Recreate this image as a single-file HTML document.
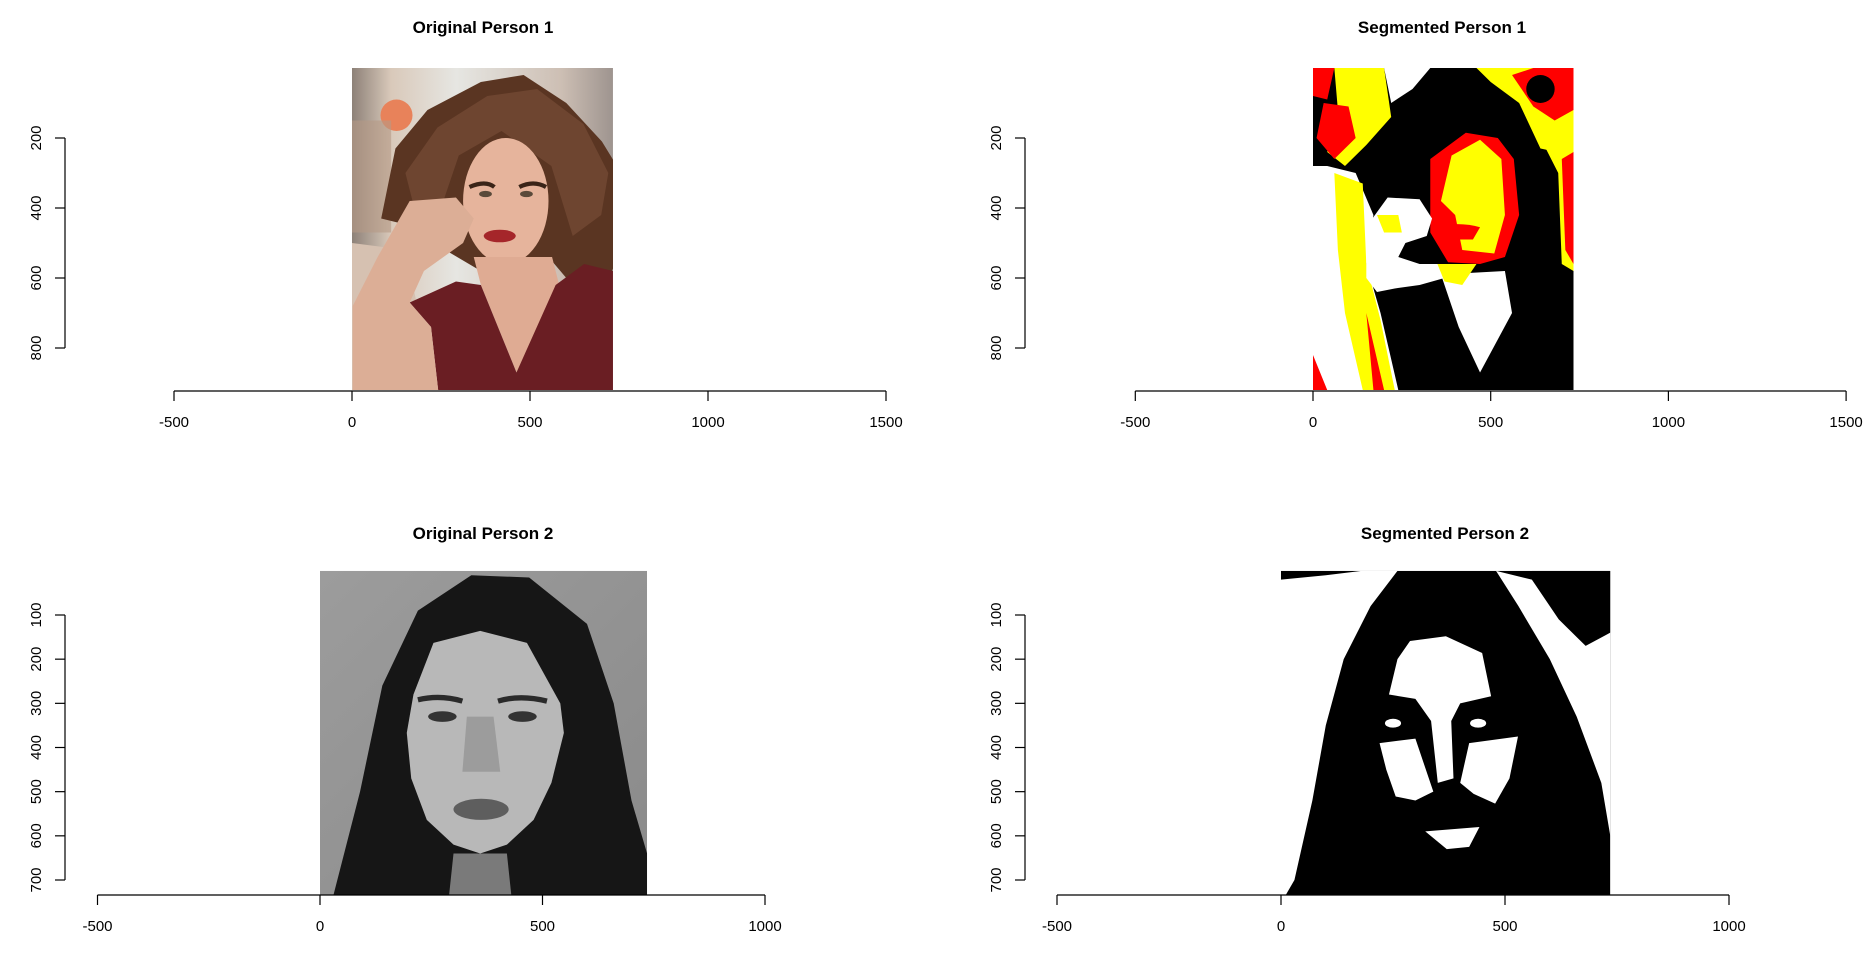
<!DOCTYPE html>
<html><head><meta charset="utf-8">
<style>
html,body{margin:0;padding:0;background:#fff;}
svg{display:block;}
text{font-family:"Liberation Sans",Arial,sans-serif;fill:#000;}
</style></head>
<body>
<svg id="root" width="1873" height="966" viewBox="0 0 1873 966" xmlns="http://www.w3.org/2000/svg">
<defs>
<linearGradient id="bg1" x1="0" y1="0" x2="1" y2="0"><stop offset="0" stop-color="#8d8178"/><stop offset="0.15" stop-color="#d9c9ba"/><stop offset="0.4" stop-color="#e6e6e2"/><stop offset="0.8" stop-color="#cdbfb4"/><stop offset="1" stop-color="#9e948f"/></linearGradient>
<linearGradient id="bg2" x1="0" y1="0" x2="1" y2="1"><stop offset="0" stop-color="#9c9c9c"/><stop offset="1" stop-color="#8a8a8a"/></linearGradient>
</defs>
</svg>
<script>
// ---- data ----
const panelTitles = ["Original Person 1","Segmented Person 1","Original Person 2","Segmented Person 2"];
const xTicksTop = [-500,0,500,1000,1500];
const yTicksTop = [200,400,600,800];
const xTicksBottom = [-500,0,500,1000];
const yTicksBottom = [100,200,300,400,500,600,700];
const imgWidthTop = 733, imgHeightTop = 920;
const imgWidthBottom = 735, imgHeightBottom = 735;

const NS="http://www.w3.org/2000/svg";
const root=document.getElementById('root');
function mk(tag,attrs,parent){const e=document.createElementNS(NS,tag);for(const k in attrs)e.setAttribute(k,attrs[k]);(parent||root).appendChild(e);return e;}

// layout per panel: pixel positions of axis
const layouts=[
 {x0:352,xs:178/500,axisY:391,yAxisX:65,yPix0:67,ys:(348-138)/600,yRef:200,yRefPix:138,titleX:483,titleY:33,xt:xTicksTop,yt:yTicksTop,w:imgWidthTop,h:imgHeightTop},
 {x0:1313,xs:177.7/500,axisY:391,yAxisX:1025,ys:(348-138)/600,yRef:200,yRefPix:138,titleX:1442,titleY:33,xt:xTicksTop,yt:yTicksTop,w:imgWidthTop,h:imgHeightTop},
 {x0:320,xs:222.5/500,axisY:895,yAxisX:65,ys:(880-615)/600,yRef:100,yRefPix:615,titleX:483,titleY:539,xt:xTicksBottom,yt:yTicksBottom,w:imgWidthBottom,h:imgHeightBottom},
 {x0:1281,xs:224/500,axisY:895,yAxisX:1025,ys:(880-615)/600,yRef:100,yRefPix:615,titleX:1445,titleY:539,xt:xTicksBottom,yt:yTicksBottom,w:imgWidthBottom,h:imgHeightBottom}
];

const art=[
// person 1 original
`<rect width="733" height="920" fill="url(#bg1)"/>
<circle cx="125" cy="135" r="45" fill="#e8825a"/>
<rect x="0" y="150" width="110" height="320" fill="#b59a86" opacity="0.6"/>
<path d="M0 500 L150 520 L200 760 L180 920 L0 920Z" fill="#d6c1b1"/>
<path d="M82 430 L122 230 L212 120 L362 40 L482 20 L602 100 L702 210 L762 310 L772 480 L722 600 L602 600 L552 540 L482 580 L362 580 L262 520 L162 450Z" fill="#5a3522"/>
<path d="M150 300 L240 170 L380 80 L520 60 L650 160 L720 300 L700 420 L620 480 L560 280 L420 180 L300 250 L250 400 L180 420Z" fill="#6e4530"/>
<ellipse cx="432" cy="380" rx="120" ry="180" fill="#e6b49c"/>
<path d="M330 340 Q375 320 400 340 M470 340 Q510 320 545 340" stroke="#3a2418" stroke-width="12" fill="none"/>
<ellipse cx="375" cy="360" rx="18" ry="9" fill="#5a4a3a"/><ellipse cx="490" cy="360" rx="18" ry="9" fill="#5a4a3a"/>
<ellipse cx="415" cy="480" rx="45" ry="18" fill="#a5262a"/>
<path d="M342 540 L562 540 L582 620 L462 870 L362 620Z" fill="#dfab93"/>
<path d="M162 670 L292 610 L362 620 L462 870 L572 620 L652 560 L733 580 L733 920 L242 920 L222 740Z" fill="#6a1e23"/>
<path d="M2 920 L2 680 L72 540 L162 380 L292 370 L342 430 L312 500 L202 580 L162 670 L222 740 L242 920Z" fill="#dcae96"/>`,
// person 1 segmented
`<rect width="733" height="920" fill="#000"/>
<path d="M0 280 L0 920 L240 920 L190 700 L150 560 L170 420 L120 300 L40 280Z" fill="#fff"/>
<path d="M60 300 L140 330 L150 560 L190 720 L230 920 L140 920 L90 700 L70 520Z" fill="#ff0"/>
<path d="M0 820 L40 920 L0 920Z M150 700 L200 920 L170 920Z" fill="#f00"/>
<path d="M60 0 L200 0 L220 140 L150 220 L90 280 L40 240 L70 120Z" fill="#ff0"/>
<path d="M30 100 L100 110 L120 200 L60 260 L10 200Z M0 0 L60 0 L40 90 L0 80Z" fill="#f00"/>
<path d="M200 0 L330 0 L280 60 L220 100Z" fill="#fff"/>
<path d="M460 0 L733 0 L733 250 L640 230 L580 100 L500 40Z" fill="#ff0"/>
<path d="M560 20 L620 0 L733 0 L733 120 L680 150 L620 110Z" fill="#f00"/>
<ellipse cx="640" cy="60" rx="40" ry="40" fill="#000"/>
<path d="M640 200 L733 180 L733 580 L700 560 L690 300Z" fill="#ff0"/>
<path d="M700 260 L733 240 L733 560 L710 520Z" fill="#f00"/>
<path d="M330 260 L430 185 L520 200 L565 260 L580 420 L540 540 L470 560 L380 555 L330 470Z" fill="#f00"/>
<path d="M390 250 L470 205 L530 260 L540 420 L510 530 L420 520 L400 420 L360 380Z" fill="#ff0"/>
<path d="M360 450 Q420 440 470 455 L450 490 L380 490Z" fill="#f00"/>
<path d="M150 520 L160 440 L210 370 L300 375 L335 430 L320 480 L260 500 L240 540 L300 560 L360 560 L370 600 L300 620 L230 630 L180 640 L150 600Z" fill="#fff"/>
<path d="M180 420 L200 470 L250 470 L240 420Z" fill="#ff0"/>
<path d="M360 590 L540 580 L560 700 L470 870 L410 740Z" fill="#fff"/>
<path d="M350 560 L460 560 L420 620 L370 610Z" fill="#ff0"/>`,
// person 2 original
`<rect width="735" height="735" fill="url(#bg2)"/>
<path d="M30 735 L90 500 L140 260 L220 90 L340 10 L470 15 L600 120 L660 300 L700 520 L735 640 L735 735Z" fill="#161616"/>
<path d="M360 136 L465 163 L540 300 L548 367 L520 480 L480 564 L420 620 L360 640 L300 620 L240 564 L205 470 L195 367 L210 280 L255 163Z" fill="#b8b8b8"/>
<path d="M300 640 L420 640 L430 735 L290 735Z" fill="#7a7a7a"/>
<path d="M220 292 Q270 280 320 295 M400 295 Q450 280 510 295" stroke="#2a2a2a" stroke-width="12" fill="none"/>
<ellipse cx="275" cy="330" rx="32" ry="12" fill="#333"/><ellipse cx="455" cy="330" rx="32" ry="12" fill="#333"/>
<path d="M330 330 L390 330 L405 455 L320 455Z" fill="#9c9c9c"/>
<ellipse cx="362" cy="540" rx="62" ry="24" fill="#5e5e5e"/>`,
// person 2 segmented
`<rect width="735" height="735" fill="#000"/>
<path d="M0 20 L100 10 L180 0 L260 0 L200 80 L140 200 L100 350 L70 520 L30 700 L10 735 L0 735Z" fill="#fff"/>
<path d="M480 0 L560 20 L620 110 L680 170 L735 140 L735 600 L715 480 L660 330 L600 200 L530 80Z" fill="#fff"/>
<path d="M560 0 L735 0 L735 140 L680 120 L620 60Z" fill="#000"/>
<path d="M368 148 L449 186 L469 284 L400 300 L380 340 L385 470 L350 480 L335 340 L300 290 L241 280 L260 200 L288 159Z" fill="#fff"/>
<path d="M220 390 L300 380 L330 470 L340 500 L300 520 L256 511 L235 450Z" fill="#fff"/>
<path d="M420 390 L529 375 L510 470 L478 527 L430 505 L400 480Z" fill="#fff"/>
<path d="M322 590 L443 580 L420 625 L370 630Z" fill="#fff"/>
<ellipse cx="250" cy="345" rx="18" ry="10" fill="#fff"/><ellipse cx="440" cy="345" rx="18" ry="10" fill="#fff"/>`
];

const names=["original-person-1","segmented-person-1","original-person-2","segmented-person-2"];

layouts.forEach((L,i)=>{
  const g=mk('g',{});
  
  
  const X=v=>L.x0+v*L.xs;
  const Y=v=>L.yRefPix+(v-L.yRef)*L.ys;
  // image
  const px=X(0), py=Y(0), pw=X(L.w)-X(0), ph=Y(L.h)-Y(0);
  const s=mk('svg',{x:px,y:py,width:pw,height:ph,viewBox:`0 0 ${L.w} ${L.h}`,preserveAspectRatio:'none'},g);
  
  
  s.innerHTML=art[i];
  // title
  const t=mk('text',{x:L.titleX,y:L.titleY,'text-anchor':'middle','font-size':'17','font-weight':'bold'},g);
  
  
  t.textContent=panelTitles[i];
  // x axis
  const xa=mk('line',{x1:X(L.xt[0]),x2:X(L.xt[L.xt.length-1]),y1:L.axisY,y2:L.axisY,stroke:'#000','stroke-width':1.2},g);
  
  
  L.xt.forEach(v=>{
    const tk=mk('line',{x1:X(v),x2:X(v),y1:L.axisY,y2:L.axisY+10,stroke:'#000','stroke-width':1.2},g);
    
    
    const lb=mk('text',{x:X(v),y:L.axisY+36,'text-anchor':'middle','font-size':'15'},g);
    
    
    lb.textContent=v;
  });
  // y axis
  const ya=mk('line',{x1:L.yAxisX,x2:L.yAxisX,y1:Y(L.yt[0]),y2:Y(L.yt[L.yt.length-1]),stroke:'#000','stroke-width':1.2},g);
  
  
  L.yt.forEach(v=>{
    const tk=mk('line',{x1:L.yAxisX-10,x2:L.yAxisX,y1:Y(v),y2:Y(v),stroke:'#000','stroke-width':1.2},g);
    
    
    const lx=L.yAxisX-24;
    const lb=mk('text',{x:lx,y:Y(v),'text-anchor':'middle','font-size':'15',transform:`rotate(-90 ${lx} ${Y(v)})`},g);
    
    
    lb.textContent=v;
  });
});
</script>
</body></html>
